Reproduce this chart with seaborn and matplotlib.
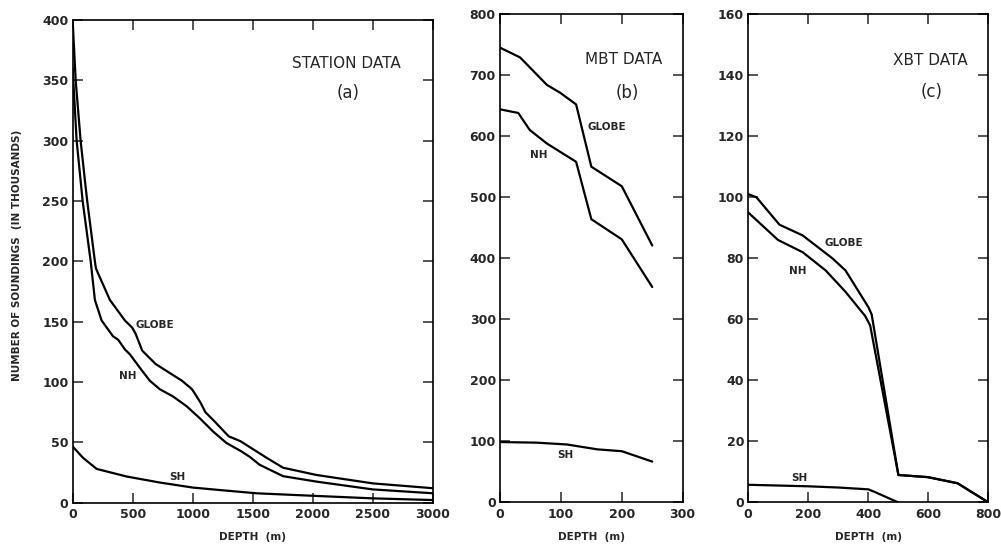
import matplotlib
matplotlib.use("Agg")
import matplotlib.pyplot as plt
import seaborn as sns

sns.set_style("ticks")
plt.rcParams["font.family"] = ["DejaVu Sans"]

# (a) station data
depth_a_globe = [0, 25, 66, 102, 121, 185, 194, 310, 435, 496, 524, 579, 690, 800, 911, 994,
                 1064, 1105, 1175, 1299, 1396, 1507, 1618, 1751, 2028, 2499, 3000]
globe_a = [399, 350, 300, 267, 250, 200, 194, 168, 151, 145, 140, 126, 115, 108, 101, 94,
           83, 75, 68, 55, 51, 44, 37, 29, 23, 16, 12]
depth_a_nh = [0, 5, 33, 66, 83, 150, 185, 241, 335, 379, 435, 476, 573, 643, 726, 836, 948,
              1058, 1169, 1280, 1405, 1474, 1557, 1751, 2028, 2499, 3000]
nh_a = [360, 350, 300, 267, 250, 200, 168, 151, 138, 135, 127, 123, 110, 101, 94, 88, 80,
        70, 59, 49.5, 42.5, 38, 31.4, 22, 17.5, 11, 7.8]
depth_a_sh = [0, 5, 88, 200, 449, 726, 1003, 1280, 1530, 2028, 2499, 3000]
sh_a = [47, 46, 37, 28, 21.7, 16.7, 12.5, 10, 7.8, 5.6, 3.6, 2.2]

# (b) MBT data
depth_b_globe = [0, 33, 77, 99, 125, 150, 200, 250]
globe_b = [745, 729, 684, 671, 652, 550, 518, 421]
depth_b_nh = [0, 30, 49, 77, 125, 150, 200, 250]
nh_b = [644, 638, 610, 588, 558, 464, 431, 353]
depth_b_sh = [0, 60, 110, 160, 200, 250]
sh_b = [99, 98, 95, 87, 84, 67]

# (c) XBT data
depth_c_globe = [0, 27, 104, 181, 280, 324, 400, 411, 500, 598, 697, 800]
globe_c = [101, 100, 91, 87.5, 80, 76, 64, 61.6, 9, 8.3, 6.3, 0]
depth_c_nh = [0, 99, 181, 258, 324, 390, 406, 500, 598, 697, 800]
nh_c = [95, 86, 82, 76, 69, 61, 58, 9, 8.3, 6.3, 0]
depth_c_sh = [0, 200, 300, 400, 420, 500]
sh_c = [5.8, 5.3, 4.9, 4.3, 3.5, 0]

fig = plt.figure(figsize=(10.01, 5.5), dpi=100)
ax_a = fig.add_axes([0.0726, 0.086, 0.36, 0.8776])
ax_b = fig.add_axes([0.4995, 0.0864, 0.1825, 0.888])
ax_c = fig.add_axes([0.7475, 0.0864, 0.2400, 0.888])

panels = [
    (ax_a, [(depth_a_globe, globe_a), (depth_a_nh, nh_a), (depth_a_sh, sh_a)],
     (0, 3000, 500), (0, 400, 50), "STATION DATA", "(a)", (0.76, 0.91), (0.763, 0.848),
     {"GLOBE": (685, 147.5), "NH": (456, 105), "SH": (872, 21.7)}),
    (ax_b, [(depth_b_globe, globe_b), (depth_b_nh, nh_b), (depth_b_sh, sh_b)],
     (0, 300, 100), (0, 800, 100), "MBT DATA", "(b)", (0.676, 0.906), (0.695, 0.839),
     {"GLOBE": (175, 615), "NH": (63, 569), "SH": (107, 78)}),
    (ax_c, [(depth_c_globe, globe_c), (depth_c_nh, nh_c), (depth_c_sh, sh_c)],
     (0, 800, 200), (0, 160, 20), "XBT DATA", "(c)", (0.759, 0.904), (0.765, 0.841),
     {"GLOBE": (318, 85), "NH": (165, 75.7), "SH": (170, 8)}),
]

for ax, series, xr, yr, title, tag, tpos, gpos, labels in panels:
    for xs, ys in series:
        sns.lineplot(x=xs, y=ys, ax=ax, color="black", lw=1.6, sort=False)
    ax.set_xlim(xr[0], xr[1])
    ax.set_ylim(yr[0], yr[1])
    ax.set_xticks(range(xr[0], xr[1] + 1, xr[2]))
    ax.set_yticks(range(yr[0], yr[1] + 1, yr[2]))
    ax.tick_params(direction="in", length=7, width=1.1, top=True, right=True,
                   labelsize=9, pad=4)
    ax.tick_params(axis="y", pad=3)
    for lab in ax.get_xticklabels() + ax.get_yticklabels():
        lab.set_fontweight("bold")
    for sp in ax.spines.values():
        sp.set_linewidth(1.2)
        sp.set_color("black")
    ax.text(tpos[0], tpos[1], title, transform=ax.transAxes, ha="center", va="center",
            fontsize=11)
    ax.text(gpos[0], gpos[1], tag, transform=ax.transAxes, ha="center", va="center",
            fontsize=12)
    for name, (lx, ly) in labels.items():
        ax.text(lx, ly, name, ha="center", va="center", fontsize=7.5, fontweight="bold")
    ax.text(0.5, -0.071, "DEPTH  (m)", transform=ax.transAxes, ha="center", va="center",
            fontsize=7.5, fontweight="bold")

fig.text(0.017, 0.536, "NUMBER OF SOUNDINGS  (IN THOUSANDS)", rotation=90,
         ha="center", va="center", fontsize=7.5, fontweight="bold")

fig.savefig("out.png", dpi=100)
